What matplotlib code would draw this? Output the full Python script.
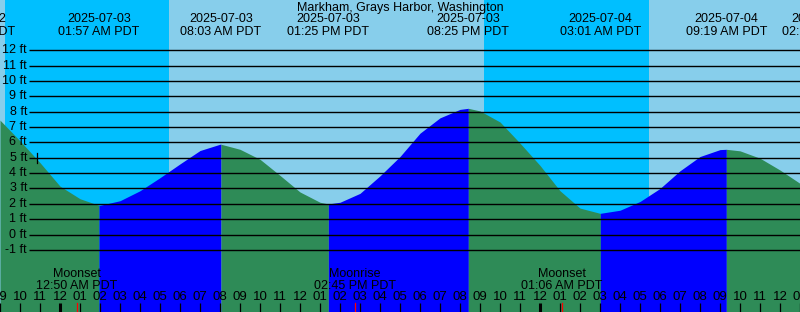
import matplotlib
matplotlib.use("Agg")
import matplotlib.pyplot as plt
import matplotlib.transforms as mtransforms

# ---------------- data ----------------
station = "Markham, Grays Harbor, Washington"

# hours relative to 2025-07-03 00:00 PDT
hourly_t = list(range(-3, 38))
hourly_h = [7.45, 6.10, 4.68, 3.15, 2.33, 1.90, 2.20, 2.85, 3.70, 4.60,
            5.47, 5.88, 5.55, 4.90, 3.85, 2.77, 2.10, 2.10, 2.68, 3.82,
            5.08, 6.60, 7.60, 8.15, 8.05, 7.33, 5.95, 4.50, 2.85, 1.72,
            1.38, 1.58, 2.15, 3.00, 4.15, 5.08, 5.53, 5.45, 4.97, 4.20,
            3.33]

# tide extremes visible in the chart (time in hours, height ft)
ext_t = [1.95, 8.05, 13.417, 20.417, 27.017, 33.317]
ext_h = [1.90, 5.88, 1.99, 8.22, 1.38, 5.55]

# top event labels (including partly clipped ones at the edges)
label_t = [-4.3, 1.95, 8.05, 13.417, 20.417, 27.017, 33.317, 38.17]
label_date = ["2025-07-02", "2025-07-03", "2025-07-03", "2025-07-03",
              "2025-07-03", "2025-07-04", "2025-07-04", "2025-07-04"]
label_time = ["07:42 PM PDT", "01:57 AM PDT", "08:03 AM PDT", "01:25 PM PDT",
              "08:25 PM PDT", "03:01 AM PDT", "09:19 AM PDT", "02:10 PM PDT"]

# sunset / sunrise times (hours)
sun_t = [-2.77, 5.43, 21.22, 29.43]

# moon events
moon_t = [0.833, 14.75, 25.1]
moon_name = ["Moonset", "Moonrise", "Moonset"]
moon_time = ["12:50 AM PDT", "02:45 PM PDT", "01:06 AM PDT"]

levels = list(range(-1, 13))
mark_t = -1.175
mark_h = 5.0

# ---------------- style ----------------
DAY = "#87CEEB"
NIGHT = "#00BFFF"
FLOOD = "#0000FF"
EBB = "#2E8B57"
FONT = "Liberation Sans"
FS = 9

W, H = 800, 312
xmin, xmax = -3.0, 37.0
px_per_h = W / (xmax - xmin)
y0px, px_per_ft = 234.5, 15.35
ymin = (y0px - H) / px_per_ft
ymax = y0px / px_per_ft

fig = plt.figure(figsize=(W / 100, H / 100), dpi=100)
ax = fig.add_axes([0, 0, 1, 1])
ax.set_xlim(xmin, xmax)
ax.set_ylim(ymin, ymax)
ax.axis("off")

def ypx(p):
    return 1 - p / H

bt = mtransforms.blended_transform_factory(ax.transData, ax.transAxes)

# day / night background
edges = [xmin] + sun_t + [xmax]
for i in range(len(edges) - 1):
    ax.axvspan(edges[i], edges[i + 1], color=DAY if i % 2 == 0 else NIGHT,
               lw=0, zorder=0)

# tide curve fill
pts = sorted(set(zip(hourly_t, hourly_h)) | set(zip(ext_t, ext_h)))
ts = [p[0] for p in pts]
hs = [p[1] for p in pts]
bounds = [ts[0]] + ext_t + [ts[-1]]
for i in range(len(bounds) - 1):
    a, b = bounds[i], bounds[i + 1]
    seg = [(t, h) for t, h in zip(ts, hs) if a - 1e-9 <= t <= b + 1e-9]
    st = [s[0] for s in seg]
    sh = [s[1] for s in seg]
    ax.fill_between(st, sh, ymin, color=EBB if i % 2 == 0 else FLOOD,
                    lw=0, zorder=1)

# level lines and labels
x_line0 = xmin + 29.3 / px_per_h
ax.hlines(levels, x_line0, xmax, color="black", lw=1.0, zorder=3)
for lv in levels:
    ax.text(xmin + 27 / px_per_h, lv, f"{lv} ft", ha="right", va="center",
            fontsize=FS, family=FONT, zorder=4)

# mark
ax.plot([mark_t, mark_t], [mark_h - 5 / px_per_ft, mark_h + 5 / px_per_ft],
        color="black", lw=0.9, zorder=4)

# title and event labels
ax.text(0.5, ypx(7.5), station, transform=ax.transAxes, ha="center",
        va="center", fontsize=FS, family=FONT, zorder=5)
for t, d, tm in zip(label_t, label_date, label_time):
    ax.text(t, ypx(19), d, transform=bt, ha="center", va="center",
            fontsize=FS, family=FONT, zorder=5)
    ax.text(t, ypx(32), tm, transform=bt, ha="center", va="center",
            fontsize=FS, family=FONT, zorder=5)

# moon labels
for t, n, tm in zip(moon_t, moon_name, moon_time):
    ax.text(t, ypx(274), n, transform=bt, ha="center", va="center",
            fontsize=FS, family=FONT, zorder=5)
    ax.text(t, ypx(286), tm, transform=bt, ha="center", va="center",
            fontsize=FS, family=FONT, zorder=5)
    ax.plot([t, t], [ypx(303), ypx(312)], transform=bt, color="red",
            lw=0.9, zorder=6)

# hour ticks & labels
for hr in hourly_t:
    clock = hr % 24
    lab = f"{(clock % 12) or 12:02d}"
    ax.text(hr, ypx(297), lab, transform=bt, ha="center", va="center",
            fontsize=FS + 0.5, family=FONT, zorder=5)
    ax.plot([hr, hr], [ypx(303), ypx(312)], transform=bt, color="black",
            lw=2.2 if clock == 0 else 0.9, zorder=5, solid_capstyle="butt")

fig.savefig("out.png", dpi=100)
